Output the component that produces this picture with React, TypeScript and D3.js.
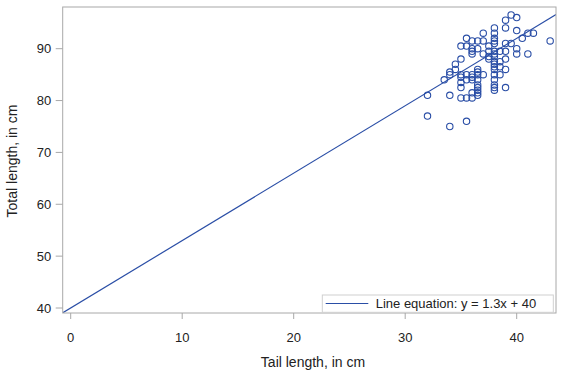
import React from "react";
import * as d3 from "d3";

const tailLength = [39.5, 40, 39, 39, 40, 37, 38, 38, 41, 41.5, 40.5, 35.5, 36, 36.5, 37, 38, 38, 35, 35.5, 36, 36.5, 37.5, 38, 39, 39.5, 40, 43, 36, 36, 37, 37.5, 38, 38, 38.5, 39, 40, 41, 35, 37.5, 37.5, 38, 38, 39, 34.5, 38, 38.5, 34.5, 38, 38.5, 39, 34, 35, 35.5, 36, 36.5, 36.5, 36.5, 37, 38, 38.5, 33.5, 34, 35, 35.5, 36, 36, 38, 35, 36.5, 38, 35, 36.5, 36.5, 38, 38, 39, 36, 36.5, 36.5, 36.5, 38, 32, 34, 35, 35.5, 36, 32, 34, 35.5];
const totalLength = [96.5, 96, 95.5, 94, 93.5, 93, 94, 93, 93, 93, 92, 92, 91.5, 91.5, 91.5, 92, 91.5, 90.5, 90.5, 90, 90, 90.5, 91, 91, 91, 90, 91.5, 89.5, 89, 89, 89.5, 89.5, 89, 89.5, 89.5, 89, 89, 88, 88.5, 88, 88.5, 87.5, 88, 87, 87, 87.5, 86, 86.5, 86.5, 86, 85.5, 85, 85, 85, 86, 85.5, 85, 85, 86, 85, 84, 85, 84.5, 84, 84.5, 84, 85, 83.5, 84, 84, 82.5, 83, 82.5, 83, 82.5, 82.5, 81.5, 82, 81.5, 81, 82, 81, 81, 80.5, 80.5, 80.5, 77, 75, 76];
const xTicks = [0, 10, 20, 30, 40];
const yTicks = [40, 50, 60, 70, 80, 90];
const slope = 1.3;
const intercept = 40;
const legendLabel = "Line equation: y = 1.3x + 40";
const xTitle = "Tail length, in cm";
const yTitle = "Total length, in cm";

export default function App() {
  const W = 561, H = 376;
  const left = 62.7, right = 556, top = 7, bottom = 313;
  const x = d3.scaleLinear().domain([0, 40]).range([70.7, 516.7]);
  const y = d3.scaleLinear().domain([40, 90]).range([308, 48.7]);
  const x0 = x.invert(left), x1 = x.invert(right);
  const blue = "#2a4ea6";
  const font = "'Liberation Sans', Arial, sans-serif";
  const textCol = "#222222";
  const frame = "#a8a8a8";
  const lineData: [number, number][] = [[x0, slope * x0 + intercept], [x1, slope * x1 + intercept]];
  const line = d3.line<[number, number]>().x(d => x(d[0])).y(d => y(d[1]));
  return (
    <svg width={W} height={H} style={{ position: "absolute", left: 0, top: 0, background: "#fff" }} fontFamily={font}>
      <rect x={0} y={0} width={W} height={H} fill="#fff" />
      <defs>
        <clipPath id="plot"><rect x={left} y={top} width={right - left} height={bottom - top} /></clipPath>
      </defs>
      <g clipPath="url(#plot)">
        <path d={line(lineData) || ""} stroke={blue} strokeWidth={1.2} fill="none" />
        {tailLength.map((t, i) => (
          <circle key={i} cx={x(t)} cy={y(totalLength[i])} r={3.2} fill="none" stroke={blue} strokeWidth={1.1} />
        ))}
      </g>
      <rect x={left} y={top} width={right - left} height={bottom - top} fill="none" stroke={frame} strokeWidth={1} />
      {xTicks.map(t => (
        <g key={t}>
          <line x1={x(t)} x2={x(t)} y1={bottom} y2={bottom + 6} stroke={frame} />
          <text x={x(t)} y={342} textAnchor="middle" fontSize={13} fill={textCol}>{t}</text>
        </g>
      ))}
      {yTicks.map(t => (
        <g key={t}>
          <line x1={left - 7} x2={left} y1={y(t)} y2={y(t)} stroke={frame} />
          <text x={left - 11.5} y={y(t) + 4.5} textAnchor="end" fontSize={13} fill={textCol}>{t}</text>
        </g>
      ))}
      <text x={313} y={367} textAnchor="middle" fontSize={14} fill={textCol}>{xTitle}</text>
      <text transform={`translate(17,161) rotate(-90)`} textAnchor="middle" fontSize={14} fill={textCol}>{yTitle}</text>
      <rect x={322.3} y={295} width={231} height={17.3} fill="#fff" stroke="#d0d0d0" />
      <line x1={325.7} x2={368.3} y1={303.5} y2={303.5} stroke={blue} strokeWidth={1.2} />
      <text x={375.7} y={308} fontSize={13} fill={textCol}>{legendLabel}</text>
    </svg>
  );
}
